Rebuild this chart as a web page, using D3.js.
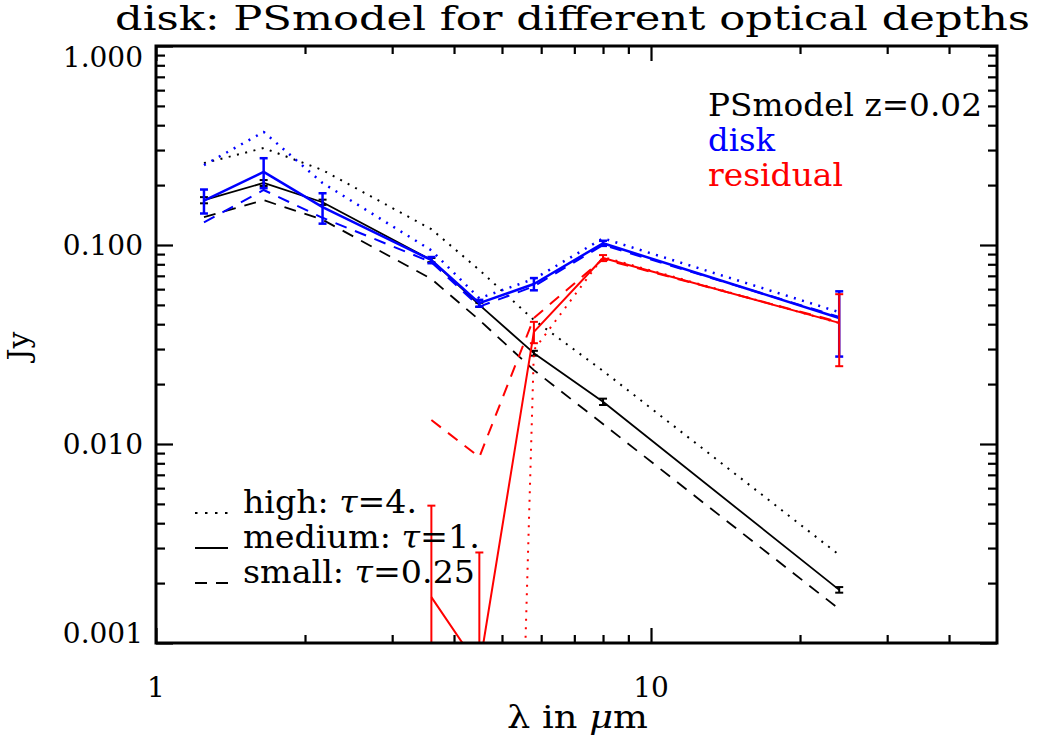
<!DOCTYPE html>
<html>
<head>
<meta charset="utf-8">
<script src="https://cdn.jsdelivr.net/npm/d3@7"></script>
<style>
  html, body { margin: 0; padding: 0; background: #fff; }
  svg text { font-family: "DejaVu Serif", "Liberation Serif", serif; }
</style>
</head>
<body>
<svg id="chart" width="1042" height="740"></svg>
<script>
// Wavelengths of the photometric bands (micron)
const wavelength = [1.25, 1.65, 2.17, 3.6, 4.5, 5.8, 8.0, 24];

// PSmodel z=0.02 fluxes (Jy) for three optical depths
const modelHigh   = [0.258, 0.307, 0.238, 0.120, 0.0749, 0.042, 0.0233, 0.00277];
const modelMedium = [0.168, 0.205, 0.164, 0.084, 0.050, 0.0286, 0.0163, 0.00185];
const modelSmall  = [0.138, 0.168, 0.134, 0.0675, 0.042, 0.0235, 0.0126, 0.00148];
const modelMediumErr = [0.006, 0.007, 0.005, 0.002, 0.0012, 0.0008, 0.0006, 0.00006];

// Disk fluxes (Jy)
const diskHigh   = [0.252, 0.370, 0.205, 0.094, 0.054, 0.0675, 0.108, 0.046];
const diskMedium = [0.167, 0.233, 0.155, 0.084, 0.051, 0.0637, 0.102, 0.043];
const diskSmall  = [0.130, 0.189, 0.137, 0.082, 0.049, 0.062, 0.100, 0.0435];
const diskMediumErr = [0.023, 0.040, 0.027, 0.003, 0.002, 0.0045, 0.003, 0.0155];

// Residual = disk - model (null where the residual is not positive)
const residualHigh   = [null, null, null, null, 1e-11, 0.0297, 0.087, 0.0405];
const residualMedium = [null, null, null, 0.0017, 0.00075, 0.0366, 0.086, 0.0406];
const residualSmall  = [null, null, null, 0.0132, 0.0086, 0.043, 0.085, 0.041];
const residualMediumErr = [null, null, null, 0.0032, 0.0021, 0.0045, 0.003, 0.016];

// Axis ticks
const xMajorTicks = [1, 10];
const xMinorTicks = [2, 3, 4, 5, 6, 7, 8, 9, 20, 30, 40];
const xTickLabels = ["1", "10"];
const yMajorTicks = [0.001, 0.01, 0.1, 1];
const yTickLabels = ["0.001", "0.010", "0.100", "1.000"];
const yMinorTicks = [0.001, 0.01, 0.1].flatMap(d => [2,3,4,5,6,7,8,9].map(k => +(d * k).toPrecision(3)));

const titleText = "disk: PSmodel for different optical depths";

const svg = d3.select("#chart");
const pL = 156, pR = 997, pT = 46, pB = 643;

const x = d3.scaleLog().domain([1, 50]).range([pL, pR]);
const y = d3.scaleLog().domain([0.001, 1]).range([pB, pT]);
const yc = y.copy().clamp(true);

svg.append("defs").append("clipPath").attr("id", "plotClip")
  .append("rect").attr("x", pL).attr("y", pT)
  .attr("width", pR - pL).attr("height", pB - pT);

const plot = svg.append("g").attr("clip-path", "url(#plotClip)");

const line = d3.line()
  .defined(d => d.v != null && d.v > 0)
  .x(d => x(d.w))
  .y(d => y(d.v));

const DOT = "2,6.5", DASH = "12,9";

function series(values, color, width, dash) {
  const data = wavelength.map((w, i) => ({ w, v: values[i] }));
  plot.append("path")
    .datum(data)
    .attr("d", line)
    .attr("fill", "none")
    .attr("stroke", color)
    .attr("stroke-width", width)
    .attr("stroke-dasharray", dash || null)
    .attr("stroke-linejoin", "round");
}

function errorBars(values, errs, color, width) {
  const data = wavelength.map((w, i) => ({ w, v: values[i], e: errs[i] }))
    .filter(d => d.v != null && d.e != null);
  const g = plot.append("g").attr("stroke", color).attr("stroke-width", width).attr("fill", "none");
  const cap = 4;
  data.forEach(d => {
    const lo = Math.max(d.v - d.e, 1e-12), hi = d.v + d.e;
    const cx = x(d.w), y0 = yc(lo), y1 = yc(hi);
    g.append("line").attr("x1", cx).attr("x2", cx).attr("y1", y0).attr("y2", y1);
    g.append("line").attr("x1", cx - cap).attr("x2", cx + cap).attr("y1", y0).attr("y2", y0);
    g.append("line").attr("x1", cx - cap).attr("x2", cx + cap).attr("y1", y1).attr("y2", y1);
  });
}

// PSmodel (black)
series(modelHigh, "#000", 2, DOT);
series(modelMedium, "#000", 1.8);
series(modelSmall, "#000", 1.8, DASH);
errorBars(modelMedium, modelMediumErr, "#000", 2);

// disk (blue)
series(diskHigh, "#0000ff", 2.5, DOT);
series(diskSmall, "#0000ff", 2, DASH);
series(diskMedium, "#0000ff", 2.5);
errorBars(diskMedium, diskMediumErr, "#0000ff", 2.5);

// residual (red)
series(residualHigh, "#ff0000", 2, DOT);
series(residualSmall, "#ff0000", 2, DASH);
series(residualMedium, "#ff0000", 2);
errorBars(residualMedium, residualMediumErr, "#ff0000", 2);

// Axes: ticks pointing inwards on all four sides
function ticks(axis, tr, size) {
  const g = svg.append("g").attr("transform", tr)
    .call(axis.tickSize(size).tickSizeOuter(0).tickFormat(""));
  g.select(".domain").remove();
  g.selectAll(".tick line").attr("stroke", "#000").attr("stroke-width", 2.2);
}
ticks(d3.axisBottom(x).tickValues(xMajorTicks), `translate(0,${pB})`, -15);
ticks(d3.axisBottom(x).tickValues(xMinorTicks), `translate(0,${pB})`, -8);
ticks(d3.axisTop(x).tickValues(xMajorTicks), `translate(0,${pT})`, -15);
ticks(d3.axisTop(x).tickValues(xMinorTicks), `translate(0,${pT})`, -8);
ticks(d3.axisLeft(y).tickValues(yMajorTicks), `translate(${pL},0)`, -17);
ticks(d3.axisLeft(y).tickValues(yMinorTicks), `translate(${pL},0)`, -9);
ticks(d3.axisRight(y).tickValues(yMajorTicks), `translate(${pR},0)`, -17);
ticks(d3.axisRight(y).tickValues(yMinorTicks), `translate(${pR},0)`, -9);

svg.append("rect")
  .attr("x", pL).attr("y", pT)
  .attr("width", pR - pL).attr("height", pB - pT)
  .attr("fill", "none").attr("stroke", "#000").attr("stroke-width", 3);

// Tick labels (kept inside the vertical extent of the frame)
const labelSize = 28;
svg.append("g").selectAll("text").data(yMajorTicks).join("text")
  .attr("x", 143)
  .attr("y", d => Math.min(Math.max(y(d), pT + 11), pB - 10) + 10)
  .attr("text-anchor", "end")
  .attr("font-size", labelSize)
  .text((d, i) => yTickLabels[i]);

svg.append("g").selectAll("text").data(xMajorTicks).join("text")
  .attr("x", d => x(d))
  .attr("y", 697)
  .attr("text-anchor", "middle")
  .attr("font-size", labelSize)
  .text((d, i) => xTickLabels[i]);

// Title
svg.append("text")
  .attr("x", 115).attr("y", 30)
  .attr("font-size", 33)
  .attr("textLength", 915)
  .attr("lengthAdjust", "spacingAndGlyphs")
  .text(titleText);

// Axis titles
const xt = svg.append("text")
  .attr("x", 507).attr("y", 728)
  .attr("font-size", 31)
  .attr("textLength", 141)
  .attr("lengthAdjust", "spacingAndGlyphs");
xt.append("tspan").text("λ in ");
xt.append("tspan").attr("font-style", "italic").text("μ");
xt.append("tspan").text("m");

svg.append("text")
  .attr("transform", "translate(29,346) rotate(-90)")
  .attr("text-anchor", "middle")
  .attr("font-size", 30)
  .text("Jy");

// Legend: series colours
const legendRight = [
  { text: "PSmodel z=0.02", color: "#000", y: 116, w: 274 },
  { text: "disk", color: "#0000ff", y: 151, w: 67 },
  { text: "residual", color: "#ff0000", y: 186, w: 135 }
];
svg.append("g").selectAll("text").data(legendRight).join("text")
  .attr("x", 708).attr("y", d => d.y)
  .attr("font-size", 31)
  .attr("fill", d => d.color)
  .attr("textLength", d => d.w)
  .attr("lengthAdjust", "spacingAndGlyphs")
  .text(d => d.text);

// Legend: optical depths and line styles
const legendLeft = [
  { name: "high: ", tau: "4.", dash: DOT, y: 513, w: 174 },
  { name: "medium: ", tau: "1.", dash: null, y: 548, w: 237 },
  { name: "small: ", tau: "0.25", dash: DASH, y: 583, w: 232 }
];
const lg = svg.append("g");
legendLeft.forEach(d => {
  lg.append("line")
    .attr("x1", 195).attr("x2", d.dash === DASH ? 229 : 228)
    .attr("y1", d.y).attr("y2", d.y)
    .attr("stroke", "#000").attr("stroke-width", 2)
    .attr("stroke-dasharray", d.dash === DOT ? "2.5,7.5" : d.dash);
  const t = lg.append("text")
    .attr("x", 243).attr("y", d.y)
    .attr("font-size", 31)
    .attr("textLength", d.w)
    .attr("lengthAdjust", "spacingAndGlyphs");
  t.append("tspan").text(d.name);
  t.append("tspan").attr("font-style", "italic").text("τ");
  t.append("tspan").text("=" + d.tau);
});
</script>
</body>
</html>
